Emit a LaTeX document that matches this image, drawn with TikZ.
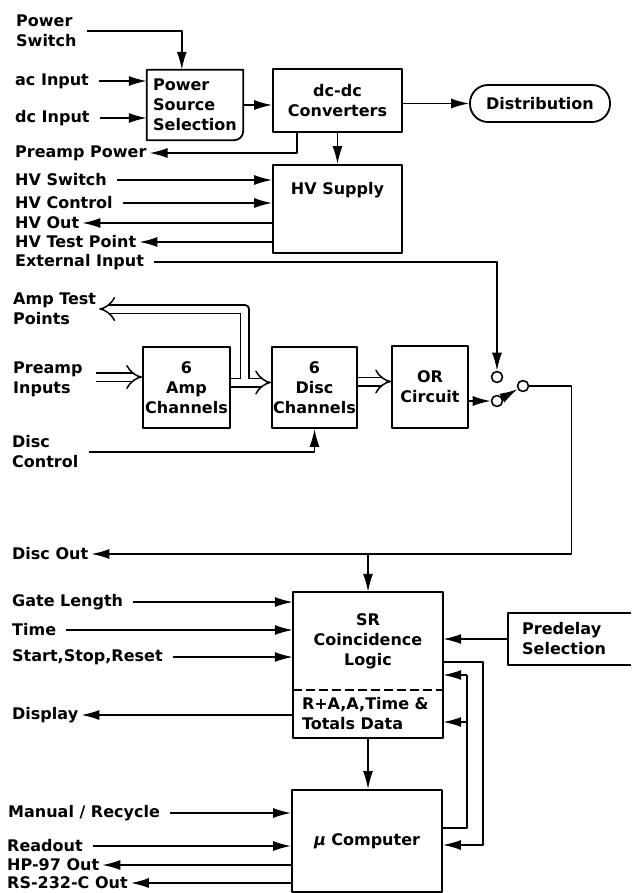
\documentclass[tikz,border=0pt]{standalone}
\usepackage{fontspec}
\setmainfont{DejaVu Sans}
\usetikzlibrary{arrows.meta,calc,positioning}

\begin{document}
\begin{tikzpicture}[x=1pt, y=-1pt, line join=round,
	font=\fontsize{16}{20}\selectfont\bfseries,
	blk/.style={draw, line width=1.8pt, align=center, inner sep=0pt},
	frame/.style={line width=1.8pt},
	lbl/.style={anchor=west, align=left, inner xsep=3pt, inner ysep=1pt},
	sig/.style={line width=1.6pt},
	inwire/.style={sig, -{Latex[length=18pt,width=10pt]}, shorten <=7pt},
	outwire/.style={sig, -{Latex[length=18pt,width=10pt]}},
	bus/.style={double, double distance=7pt, line width=1.5pt, -{Implies}},
	contact/.style={circle, draw, line width=1.6pt, minimum size=11pt, inner sep=0pt}]
	
	\useasboundingbox (0,0) rectangle (631,893);
	
	% --- 1. power part ---
	\node[minimum width=96pt, minimum height=70pt, inner sep=0pt, align=left] (pss) at (195,105) {Power\\Source\\Selection};
	\draw[frame] (pss.north west) -- (pss.north east) -- ($(pss.south east)+(0,-9)$)
	to[out=-90,in=0] ($(pss.south east)+(-9,0)$) -- (pss.south west) -- cycle; % one round corner
	\node[blk, minimum width=129pt, minimum height=63pt] (dcdc) at (337.5,100.5) {dc-dc\\Converters};
	\node[blk, rounded corners=18pt, minimum width=140pt, minimum height=37pt] (dist) at (540,103.5) {Distribution};
	\node[blk, minimum width=129pt, minimum height=88pt,
	label={[anchor=north, yshift=-15pt]north:HV Supply}] (hv) at (337.5,209) {};
	
	% --- 2. channels and switch ---
	\node[blk, minimum width=87pt, minimum height=81pt] (amp) at (186.5,387.5) {6\\Amp\\Channels};
	\node[blk, minimum width=85pt, minimum height=81pt] (disc) at (314.5,387.5) {6\\Disc\\Channels};
	\node[blk, minimum width=76pt, minimum height=82pt] (orc) at (430,387) {OR\\Circuit};
	\node[contact] (swa) at (497,377) {};
	\node[contact] (swc) at (497,401) {};
	\node[contact] (swb) at (523,386) {};
	
	% --- 3. logic and computer ---
	\node[minimum width=150pt, minimum height=98pt, inner sep=0pt, align=center] (sr) at (368,641) {SR\\Coincidence\\Logic};
	\node[minimum width=150pt, minimum height=48pt, inner sep=0pt, text width=132pt, align=left] (data) at (368,714) {R+A,A,Time \&\\Totals Data};
	\draw[frame] (sr.north west) rectangle (data.south east);
	\draw[sig, dash pattern=on 9pt off 4pt] (sr.south west) -- (sr.south east);
	\node[anchor=west, minimum width=123pt, minimum height=52pt, inner xsep=14pt, text width=95pt, align=left] (pre) at (508,639) {Predelay\\Selection};
	\draw[frame] (pre.north east) -- (pre.north west) -- (pre.south west) -- (pre.south east);
	\node[blk, minimum width=150pt, minimum height=102pt] (mu) at (367,841) {{\itshape μ} Computer};
	
	% --- 4. side labels ---
	\node[lbl] (psw) at (13,31) {Power\\Switch};
	\node[lbl] (acin) at (12,81) {ac Input};
	\node[lbl] (dcin) at (12,118) {dc Input};
	\node[lbl] (ppow) at (12,153) {Preamp Power};
	\node[lbl] (hvsw) at (12,180) {HV Switch};
	\node[lbl] (hvctl) at (12,203) {HV Control};
	\node[lbl] (hvout) at (12,223) {HV Out};
	\node[lbl] (hvtp) at (12,242) {HV Test Point};
	\node[lbl] (ext) at (12,262) {External Input};
	\node[lbl] (atp) at (10,309) {Amp Test\\Points};
	\node[lbl] (pin) at (10,379) {Preamp\\Inputs};
	\node[lbl] (dctl) at (9,452) {Disc\\Control};
	\node[lbl] (dout) at (9,554) {Disc Out};
	\node[lbl] (gate) at (9,602) {Gate Length};
	\node[lbl] (time) at (9,630) {Time};
	\node[lbl] (ssr) at (9,657) {Start,Stop,Reset};
	\node[lbl] (disp) at (9,715) {Display};
	\node[lbl] (man) at (5,813) {Manual / Recycle};
	\node[lbl] (rdo) at (4,846) {Readout};
	\node[lbl] (hp) at (4,865) {HP-97 Out};
	\node[lbl] (rs) at (4,883) {RS-232-C Out};
	
	% --- 5. connectors ---
	\draw[inwire] (psw.east) -| ($(pss.north west)+(35,0)$);
	\draw[inwire] (acin.east) -- (acin.east -| pss.west);
	\draw[inwire] (dcin.east) -- (dcin.east -| pss.west);
	\draw[outwire] (pss.east) -- (pss.east -| dcdc.west);
	\draw[outwire] (dcdc.east |- dist.west) -- (dist.west);
	\draw[outwire] ($(dcdc.south west)+(25,0)$) |- (ppow.east);
	\draw[outwire] (dcdc.south) -- (hv.north);
	\draw[inwire] (hvsw.east) -- (hvsw.east -| hv.west);
	\draw[inwire] (hvctl.east) -- (hvctl.east -| hv.west);
	\draw[outwire] (hvout.east -| hv.west) -- (hvout.east);
	\draw[outwire] (hvtp.east -| hv.west) -- (hvtp.east);
	\draw[inwire] (ext.east) -| (swa.north);
	
	% buses, the test point branch leaves the top line
	\draw[bus, shorten <=10pt] ($(pin.east)+(0,-2)$) coordinate (busP) -- (busP -| amp.west);
	\coordinate (busA) at ($(amp.east)+(0,-5)$);
	\draw[bus] (busA) -- (busA -| disc.west);
	\draw[bus] ($(busA)+(14,-3.5)$) |- (atp.east);
	\coordinate (busB) at ($(disc.east)+(0,-6)$);
	\draw[bus] (busB) -- (busB -| orc.west);
	\draw[inwire] (dctl.east) -| (disc.south);
	
	% switch
	\draw[outwire] (orc.east |- swc.west) -- (swc.west);
	\draw[outwire] (swc) -- (swb);
	\draw[outwire] (swb.east) -- ++(42,0) |- (dout.east);
	\draw[outwire] (sr.north |- dout.east) -- (sr.north);
	
	% logic inputs and outputs
	\draw[inwire] (gate.east) -- (gate.east -| sr.west);
	\draw[inwire] (time.east) -- (time.east -| sr.west);
	\draw[inwire] (ssr.east) -- (ssr.east -| sr.west);
	\draw[outwire] (disp.east -| data.west) -- (disp.east);
	\draw[outwire] (pre.west) -- (pre.west -| sr.east);
	\draw[outwire] (data.south) -- (data.south |- mu.north);
	
	% feedback loops
	\coordinate (fbout) at (483,662);
	\coordinate (muin) at (483,845);
	\draw[outwire] (sr.east |- fbout) -- (fbout) -- (muin) -- (muin -| mu.east);
	\coordinate (fbin) at (467,828);
	\coordinate (srin) at (467,675);
	\coordinate (datin) at (467,722);
	\draw[sig] (mu.east |- fbin) -- (fbin) -- (srin);
	\draw[outwire] (srin) -- (srin -| sr.east);
	\draw[outwire] (datin) -- (datin -| data.east);
	
	% computer
	\draw[inwire] (man.east) -- (man.east -| mu.west);
	\draw[inwire] (rdo.east) -- (rdo.east -| mu.west);
	\draw[outwire] (hp.east -| mu.west) -- (hp.east);
	\draw[outwire] (rs.east -| mu.west) -- (rs.east);
	
\end{tikzpicture}
\end{document}
